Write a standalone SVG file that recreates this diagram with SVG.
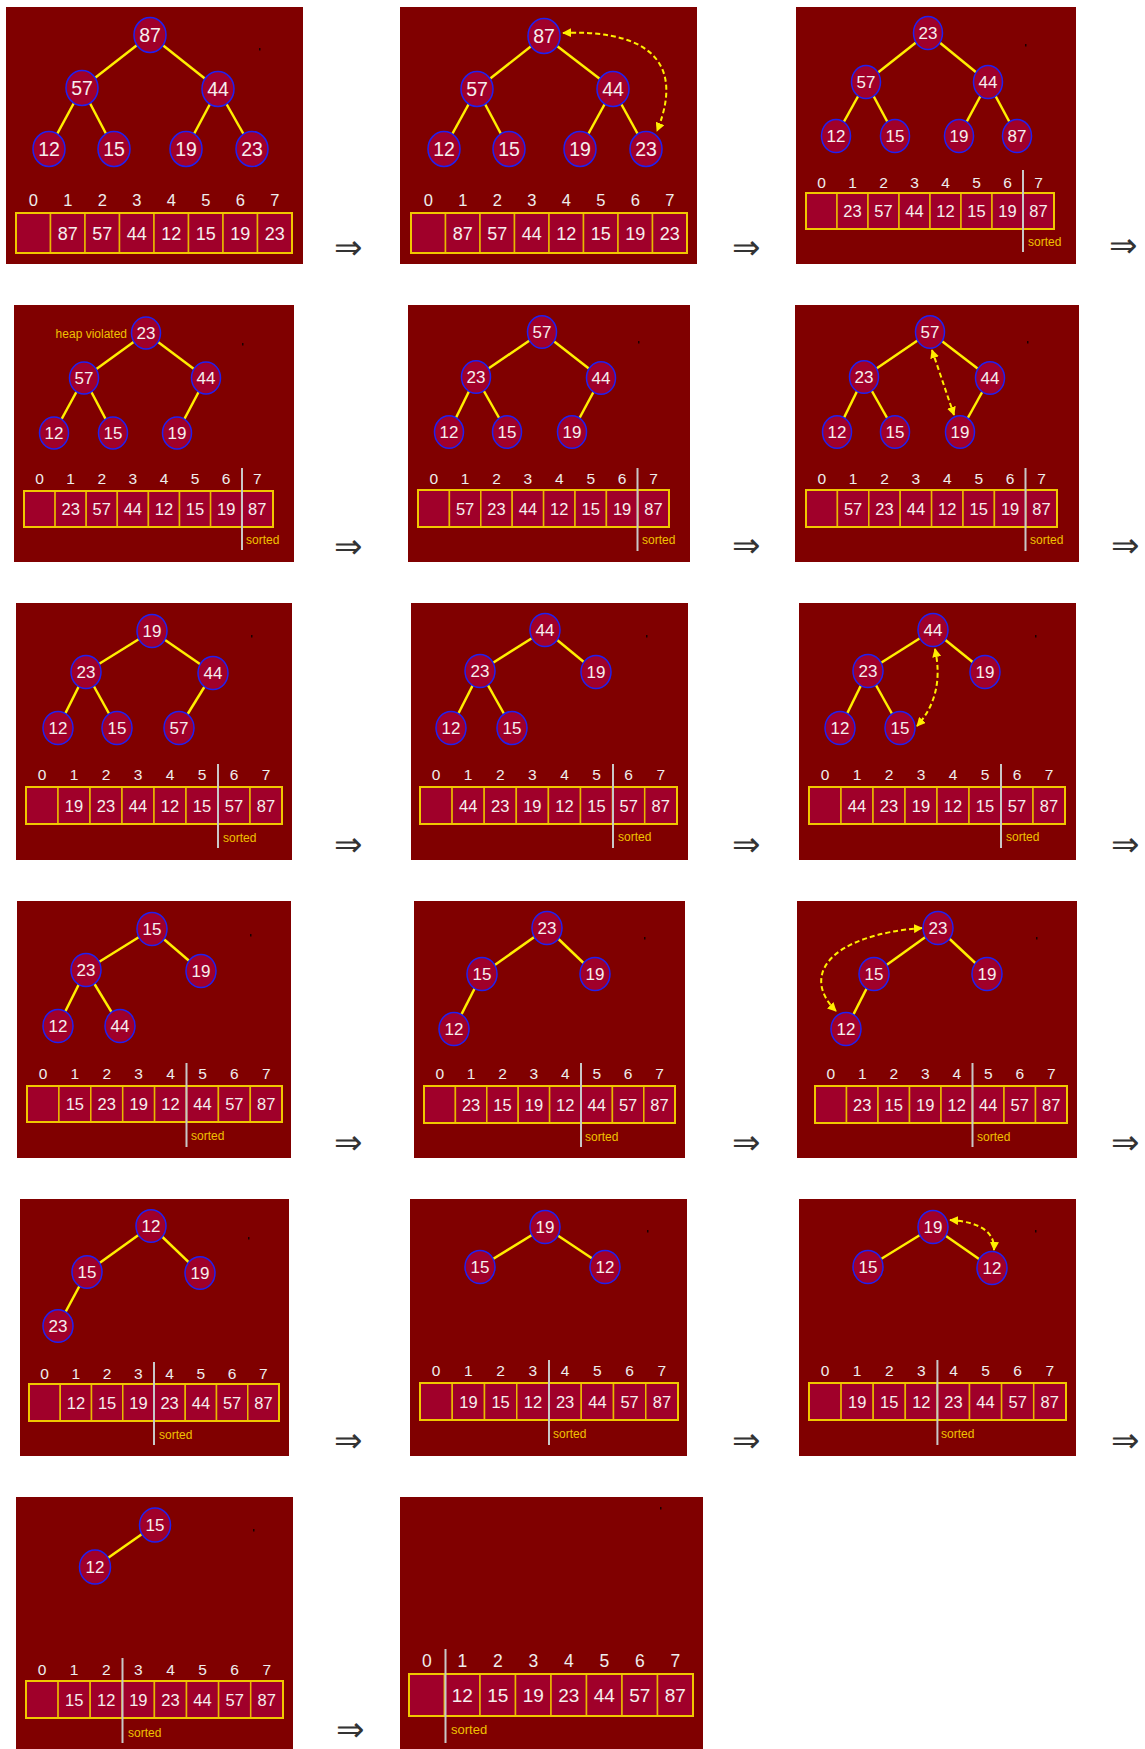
<svg xmlns="http://www.w3.org/2000/svg" width="1145" height="1749" viewBox="0 0 1145 1749">
<style>
text{font-family:"Liberation Sans",Arial,Helvetica,sans-serif}
.bg{fill:#800000}
.dot{fill:#1a0000}
.nd ellipse{fill:#a0002a;stroke:#2020f0;stroke-width:1.5}
.nt{fill:#f6eeee;text-anchor:middle;font-size:17px}
.big .nt{font-size:19.5px}
.edge{stroke:#ffee00;stroke-width:2.5}
.swap{stroke:#ffee00;stroke-width:2;stroke-dasharray:5 3;fill:none;marker-start:url(#ah);marker-end:url(#ah)}
.cell{fill:#a0002a;stroke:#e8b800;stroke-width:1.5}
.frame{fill:none;stroke:#f0c800;stroke-width:2}
.ct{fill:#f6eeee;text-anchor:middle;font-size:16.5px}
.big .ct{font-size:18px}
.big2 .ct{font-size:19px}
.idx{fill:#eeeeee;text-anchor:middle;font-size:15.5px}
.big .idx{font-size:16.5px}
.big2 .idx{font-size:17.5px}
.div{stroke:#c8c8c8;stroke-width:2}
.srt{fill:#f0c000;font-size:12px}
.big2 .srt{font-size:13px}
.arr{font-family:"DejaVu Sans ExtraLight","DejaVu Sans",sans-serif;font-weight:200;font-size:34px;fill:#333333}
</style>
<defs>
<marker id="ah" viewBox="0 0 10 10" refX="9" refY="5" markerUnits="userSpaceOnUse" markerWidth="9" markerHeight="9" orient="auto-start-reverse"><path d="M0,0 L10,5 L0,10 z" fill="#ffee00"/></marker>
</defs>
<rect width="1145" height="1749" fill="#ffffff"/>

<!-- Panel 1 -->
<g id="panel1" class="big">
<rect class="bg" x="6" y="7" width="297" height="257"/>
<rect class="dot" x="259" y="48" width="1.5" height="2.5"/>
<g id="p1-connectors">
<line class="edge" x1="150" y1="35" x2="82" y2="88"/><line class="edge" x1="150" y1="35" x2="218" y2="89"/>
<line class="edge" x1="82" y1="88" x2="49" y2="149"/><line class="edge" x1="82" y1="88" x2="114" y2="149"/>
<line class="edge" x1="218" y1="89" x2="186" y2="149"/><line class="edge" x1="218" y1="89" x2="252" y2="149"/>
</g>
<g id="p1-n87" class="nd"><ellipse cx="150" cy="35" rx="16" ry="17.5"/><text class="nt" x="150" y="42">87</text></g>
<g id="p1-n57" class="nd"><ellipse cx="82" cy="88" rx="16" ry="17.5"/><text class="nt" x="82" y="95">57</text></g>
<g id="p1-n44" class="nd"><ellipse cx="218" cy="89" rx="16" ry="17.5"/><text class="nt" x="218" y="96">44</text></g>
<g id="p1-n12" class="nd"><ellipse cx="49" cy="149" rx="16" ry="17.5"/><text class="nt" x="49" y="156">12</text></g>
<g id="p1-n15" class="nd"><ellipse cx="114" cy="149" rx="16" ry="17.5"/><text class="nt" x="114" y="156">15</text></g>
<g id="p1-n19" class="nd"><ellipse cx="186" cy="149" rx="16" ry="17.5"/><text class="nt" x="186" y="156">19</text></g>
<g id="p1-n23" class="nd"><ellipse cx="252" cy="149" rx="16" ry="17.5"/><text class="nt" x="252" y="156">23</text></g>
<g id="p1-array">
<rect class="cell" x="16" y="213" width="34.5" height="40"/><rect class="cell" x="50.5" y="213" width="34.5" height="40"/><rect class="cell" x="85" y="213" width="34.5" height="40"/><rect class="cell" x="119.5" y="213" width="34.5" height="40"/><rect class="cell" x="154" y="213" width="34.5" height="40"/><rect class="cell" x="188.5" y="213" width="34.5" height="40"/><rect class="cell" x="223" y="213" width="34.5" height="40"/><rect class="cell" x="257.5" y="213" width="34.5" height="40"/>
<rect class="frame" x="16" y="213" width="276" height="40"/>
<text class="idx" x="33.25" y="206">0</text><text class="idx" x="67.75" y="206">1</text><text class="idx" x="102.25" y="206">2</text><text class="idx" x="136.75" y="206">3</text><text class="idx" x="171.25" y="206">4</text><text class="idx" x="205.75" y="206">5</text><text class="idx" x="240.25" y="206">6</text><text class="idx" x="274.75" y="206">7</text>
<text class="ct" x="67.75" y="239.5">87</text><text class="ct" x="102.25" y="239.5">57</text><text class="ct" x="136.75" y="239.5">44</text><text class="ct" x="171.25" y="239.5">12</text><text class="ct" x="205.75" y="239.5">15</text><text class="ct" x="240.25" y="239.5">19</text><text class="ct" x="274.75" y="239.5">23</text>
</g>
</g>
<text class="arr" x="334" y="258.5">⇒</text>

<!-- Panel 2 -->
<g id="panel2" class="big">
<rect class="bg" x="400" y="7" width="297" height="257"/>
<g id="p2-connectors">
<line class="edge" x1="544" y1="36" x2="477" y2="89"/><line class="edge" x1="544" y1="36" x2="613" y2="89"/>
<line class="edge" x1="477" y1="89" x2="444" y2="149"/><line class="edge" x1="477" y1="89" x2="509" y2="149"/>
<line class="edge" x1="613" y1="89" x2="580" y2="149"/><line class="edge" x1="613" y1="89" x2="646" y2="149"/>
<path class="swap" d="M563,33 C630,30 690,50 657,131"/>
</g>
<g id="p2-n87" class="nd"><ellipse cx="544" cy="36" rx="16" ry="17.5"/><text class="nt" x="544" y="43">87</text></g>
<g id="p2-n57" class="nd"><ellipse cx="477" cy="89" rx="16" ry="17.5"/><text class="nt" x="477" y="96">57</text></g>
<g id="p2-n44" class="nd"><ellipse cx="613" cy="89" rx="16" ry="17.5"/><text class="nt" x="613" y="96">44</text></g>
<g id="p2-n12" class="nd"><ellipse cx="444" cy="149" rx="16" ry="17.5"/><text class="nt" x="444" y="156">12</text></g>
<g id="p2-n15" class="nd"><ellipse cx="509" cy="149" rx="16" ry="17.5"/><text class="nt" x="509" y="156">15</text></g>
<g id="p2-n19" class="nd"><ellipse cx="580" cy="149" rx="16" ry="17.5"/><text class="nt" x="580" y="156">19</text></g>
<g id="p2-n23" class="nd"><ellipse cx="646" cy="149" rx="16" ry="17.5"/><text class="nt" x="646" y="156">23</text></g>
<g id="p2-array">
<rect class="cell" x="411" y="213" width="34.5" height="40"/><rect class="cell" x="445.5" y="213" width="34.5" height="40"/><rect class="cell" x="480" y="213" width="34.5" height="40"/><rect class="cell" x="514.5" y="213" width="34.5" height="40"/><rect class="cell" x="549" y="213" width="34.5" height="40"/><rect class="cell" x="583.5" y="213" width="34.5" height="40"/><rect class="cell" x="618" y="213" width="34.5" height="40"/><rect class="cell" x="652.5" y="213" width="34.5" height="40"/>
<rect class="frame" x="411" y="213" width="276" height="40"/>
<text class="idx" x="428.25" y="206">0</text><text class="idx" x="462.75" y="206">1</text><text class="idx" x="497.25" y="206">2</text><text class="idx" x="531.75" y="206">3</text><text class="idx" x="566.25" y="206">4</text><text class="idx" x="600.75" y="206">5</text><text class="idx" x="635.25" y="206">6</text><text class="idx" x="669.75" y="206">7</text>
<text class="ct" x="462.75" y="239.5">87</text><text class="ct" x="497.25" y="239.5">57</text><text class="ct" x="531.75" y="239.5">44</text><text class="ct" x="566.25" y="239.5">12</text><text class="ct" x="600.75" y="239.5">15</text><text class="ct" x="635.25" y="239.5">19</text><text class="ct" x="669.75" y="239.5">23</text>
</g>
</g>
<text class="arr" x="732" y="258.5">⇒</text>

<!-- Panel 3 -->
<g id="panel3">
<rect class="bg" x="796" y="7" width="280" height="257"/>
<rect class="dot" x="1025" y="44" width="1.5" height="2.5"/>
<g id="p3-connectors">
<line class="edge" x1="928" y1="33" x2="866" y2="82"/><line class="edge" x1="928" y1="33" x2="988" y2="82"/>
<line class="edge" x1="866" y1="82" x2="836" y2="136"/><line class="edge" x1="866" y1="82" x2="895" y2="136"/>
<line class="edge" x1="988" y1="82" x2="959" y2="136"/><line class="edge" x1="988" y1="82" x2="1017" y2="136"/>
</g>
<g id="p3-n23" class="nd"><ellipse cx="928" cy="33" rx="14.5" ry="16.5"/><text class="nt" x="928" y="39">23</text></g>
<g id="p3-n57" class="nd"><ellipse cx="866" cy="82" rx="14.5" ry="16.5"/><text class="nt" x="866" y="88">57</text></g>
<g id="p3-n44" class="nd"><ellipse cx="988" cy="82" rx="14.5" ry="16.5"/><text class="nt" x="988" y="88">44</text></g>
<g id="p3-n12" class="nd"><ellipse cx="836" cy="136" rx="14.5" ry="16.5"/><text class="nt" x="836" y="142">12</text></g>
<g id="p3-n15" class="nd"><ellipse cx="895" cy="136" rx="14.5" ry="16.5"/><text class="nt" x="895" y="142">15</text></g>
<g id="p3-n19" class="nd"><ellipse cx="959" cy="136" rx="14.5" ry="16.5"/><text class="nt" x="959" y="142">19</text></g>
<g id="p3-n87" class="nd"><ellipse cx="1017" cy="136" rx="14.5" ry="16.5"/><text class="nt" x="1017" y="142">87</text></g>
<g id="p3-array">
<rect class="cell" x="806" y="193" width="31" height="36"/><rect class="cell" x="837" y="193" width="31" height="36"/><rect class="cell" x="868" y="193" width="31" height="36"/><rect class="cell" x="899" y="193" width="31" height="36"/><rect class="cell" x="930" y="193" width="31" height="36"/><rect class="cell" x="961" y="193" width="31" height="36"/><rect class="cell" x="992" y="193" width="31" height="36"/><rect class="cell" x="1023" y="193" width="31" height="36"/>
<rect class="frame" x="806" y="193" width="248" height="36"/>
<text class="idx" x="821.5" y="187.5">0</text><text class="idx" x="852.5" y="187.5">1</text><text class="idx" x="883.5" y="187.5">2</text><text class="idx" x="914.5" y="187.5">3</text><text class="idx" x="945.5" y="187.5">4</text><text class="idx" x="976.5" y="187.5">5</text><text class="idx" x="1007.5" y="187.5">6</text><text class="idx" x="1038.5" y="187.5">7</text>
<text class="ct" x="852.5" y="217">23</text><text class="ct" x="883.5" y="217">57</text><text class="ct" x="914.5" y="217">44</text><text class="ct" x="945.5" y="217">12</text><text class="ct" x="976.5" y="217">15</text><text class="ct" x="1007.5" y="217">19</text><text class="ct" x="1038.5" y="217">87</text>
<line class="div" x1="1023" y1="170" x2="1023" y2="252"/>
<text class="srt" x="1028" y="245.5">sorted</text>
</g>
</g>
<text class="arr" x="1109" y="256.5">⇒</text>

<!-- Panel 4 -->
<g id="panel4">
<rect class="bg" x="14" y="305" width="280" height="257"/>
<rect class="dot" x="242" y="343" width="1.5" height="2.5"/>
<g id="p4-connectors">
<line class="edge" x1="146" y1="333" x2="84" y2="378"/><line class="edge" x1="146" y1="333" x2="206" y2="378"/>
<line class="edge" x1="84" y1="378" x2="54" y2="433"/><line class="edge" x1="84" y1="378" x2="113" y2="433"/>
<line class="edge" x1="206" y1="378" x2="177" y2="433"/>
</g>
<text class="srt" x="127" y="337.5" text-anchor="end">heap violated</text>
<g id="p4-n23" class="nd"><ellipse cx="146" cy="333" rx="14.5" ry="16"/><text class="nt" x="146" y="339">23</text></g>
<g id="p4-n57" class="nd"><ellipse cx="84" cy="378" rx="14.5" ry="16"/><text class="nt" x="84" y="384">57</text></g>
<g id="p4-n44" class="nd"><ellipse cx="206" cy="378" rx="14.5" ry="16"/><text class="nt" x="206" y="384">44</text></g>
<g id="p4-n12" class="nd"><ellipse cx="54" cy="433" rx="14.5" ry="16"/><text class="nt" x="54" y="439">12</text></g>
<g id="p4-n15" class="nd"><ellipse cx="113" cy="433" rx="14.5" ry="16"/><text class="nt" x="113" y="439">15</text></g>
<g id="p4-n19" class="nd"><ellipse cx="177" cy="433" rx="14.5" ry="16"/><text class="nt" x="177" y="439">19</text></g>
<g id="p4-array">
<rect class="cell" x="24" y="491" width="31.1" height="36"/><rect class="cell" x="55.1" y="491" width="31.1" height="36"/><rect class="cell" x="86.2" y="491" width="31.1" height="36"/><rect class="cell" x="117.3" y="491" width="31.1" height="36"/><rect class="cell" x="148.4" y="491" width="31.1" height="36"/><rect class="cell" x="179.5" y="491" width="31.1" height="36"/><rect class="cell" x="210.6" y="491" width="31.1" height="36"/><rect class="cell" x="241.7" y="491" width="31.3" height="36"/>
<rect class="frame" x="24" y="491" width="249" height="36"/>
<text class="idx" x="39.55" y="483.5">0</text><text class="idx" x="70.65" y="483.5">1</text><text class="idx" x="101.75" y="483.5">2</text><text class="idx" x="132.85" y="483.5">3</text><text class="idx" x="163.95" y="483.5">4</text><text class="idx" x="195.05" y="483.5">5</text><text class="idx" x="226.15" y="483.5">6</text><text class="idx" x="257.25" y="483.5">7</text>
<text class="ct" x="70.65" y="515">23</text><text class="ct" x="101.75" y="515">57</text><text class="ct" x="132.85" y="515">44</text><text class="ct" x="163.95" y="515">12</text><text class="ct" x="195.05" y="515">15</text><text class="ct" x="226.15" y="515">19</text><text class="ct" x="257.25" y="515">87</text>
<line class="div" x1="242" y1="468" x2="242" y2="550"/>
<text class="srt" x="246" y="543.5">sorted</text>
</g>
</g>
<text class="arr" x="334" y="557.5">⇒</text>

<!-- Panel 5 -->
<g id="panel5">
<rect class="bg" x="408" y="305" width="282" height="257"/>
<rect class="dot" x="638" y="341" width="1.5" height="2.5"/>
<g id="p5-connectors">
<line class="edge" x1="542" y1="332" x2="476" y2="377"/><line class="edge" x1="542" y1="332" x2="601" y2="378"/>
<line class="edge" x1="476" y1="377" x2="449" y2="432"/><line class="edge" x1="476" y1="377" x2="507" y2="432"/>
<line class="edge" x1="601" y1="378" x2="572" y2="432"/>
</g>
<g id="p5-n57" class="nd"><ellipse cx="542" cy="332" rx="14.5" ry="16.3"/><text class="nt" x="542" y="338">57</text></g>
<g id="p5-n23" class="nd"><ellipse cx="476" cy="377" rx="14.5" ry="16.3"/><text class="nt" x="476" y="383">23</text></g>
<g id="p5-n44" class="nd"><ellipse cx="601" cy="378" rx="14.5" ry="16.3"/><text class="nt" x="601" y="384">44</text></g>
<g id="p5-n12" class="nd"><ellipse cx="449" cy="432" rx="14.5" ry="16.3"/><text class="nt" x="449" y="438">12</text></g>
<g id="p5-n15" class="nd"><ellipse cx="507" cy="432" rx="14.5" ry="16.3"/><text class="nt" x="507" y="438">15</text></g>
<g id="p5-n19" class="nd"><ellipse cx="572" cy="432" rx="14.5" ry="16.3"/><text class="nt" x="572" y="438">19</text></g>
<g id="p5-array">
<rect class="cell" x="418" y="490" width="31.4" height="37"/><rect class="cell" x="449.4" y="490" width="31.4" height="37"/><rect class="cell" x="480.8" y="490" width="31.4" height="37"/><rect class="cell" x="512.2" y="490" width="31.4" height="37"/><rect class="cell" x="543.6" y="490" width="31.4" height="37"/><rect class="cell" x="575" y="490" width="31.4" height="37"/><rect class="cell" x="606.4" y="490" width="31.4" height="37"/><rect class="cell" x="637.8" y="490" width="31.2" height="37"/>
<rect class="frame" x="418" y="490" width="251" height="37"/>
<text class="idx" x="433.7" y="483.5">0</text><text class="idx" x="465.1" y="483.5">1</text><text class="idx" x="496.5" y="483.5">2</text><text class="idx" x="527.9" y="483.5">3</text><text class="idx" x="559.3" y="483.5">4</text><text class="idx" x="590.7" y="483.5">5</text><text class="idx" x="622.1" y="483.5">6</text><text class="idx" x="653.5" y="483.5">7</text>
<text class="ct" x="465.1" y="514.5">57</text><text class="ct" x="496.5" y="514.5">23</text><text class="ct" x="527.9" y="514.5">44</text><text class="ct" x="559.3" y="514.5">12</text><text class="ct" x="590.7" y="514.5">15</text><text class="ct" x="622.1" y="514.5">19</text><text class="ct" x="653.5" y="514.5">87</text>
<line class="div" x1="637.5" y1="468" x2="637.5" y2="551"/>
<text class="srt" x="642" y="544">sorted</text>
</g>
</g>
<text class="arr" x="732" y="556.5">⇒</text>

<!-- Panel 6 -->
<g id="panel6">
<rect class="bg" x="795" y="305" width="284" height="257"/>
<rect class="dot" x="1027" y="341" width="1.5" height="2.5"/>
<g id="p6-connectors">
<line class="edge" x1="930" y1="332" x2="864" y2="377"/><line class="edge" x1="930" y1="332" x2="990" y2="378"/>
<line class="edge" x1="864" y1="377" x2="837" y2="432"/><line class="edge" x1="864" y1="377" x2="895" y2="432"/>
<line class="edge" x1="990" y1="378" x2="960" y2="432"/>
<path class="swap" d="M932,350 L954,415"/>
</g>
<g id="p6-n57" class="nd"><ellipse cx="930" cy="332" rx="14.5" ry="16.3"/><text class="nt" x="930" y="338">57</text></g>
<g id="p6-n23" class="nd"><ellipse cx="864" cy="377" rx="14.5" ry="16.3"/><text class="nt" x="864" y="383">23</text></g>
<g id="p6-n44" class="nd"><ellipse cx="990" cy="378" rx="14.5" ry="16.3"/><text class="nt" x="990" y="384">44</text></g>
<g id="p6-n12" class="nd"><ellipse cx="837" cy="432" rx="14.5" ry="16.3"/><text class="nt" x="837" y="438">12</text></g>
<g id="p6-n15" class="nd"><ellipse cx="895" cy="432" rx="14.5" ry="16.3"/><text class="nt" x="895" y="438">15</text></g>
<g id="p6-n19" class="nd"><ellipse cx="960" cy="432" rx="14.5" ry="16.3"/><text class="nt" x="960" y="438">19</text></g>
<g id="p6-array">
<rect class="cell" x="806" y="490" width="31.4" height="37"/><rect class="cell" x="837.4" y="490" width="31.4" height="37"/><rect class="cell" x="868.8" y="490" width="31.4" height="37"/><rect class="cell" x="900.2" y="490" width="31.4" height="37"/><rect class="cell" x="931.6" y="490" width="31.4" height="37"/><rect class="cell" x="963" y="490" width="31.4" height="37"/><rect class="cell" x="994.4" y="490" width="31.4" height="37"/><rect class="cell" x="1025.8" y="490" width="31.2" height="37"/>
<rect class="frame" x="806" y="490" width="251" height="37"/>
<text class="idx" x="821.7" y="483.5">0</text><text class="idx" x="853.1" y="483.5">1</text><text class="idx" x="884.5" y="483.5">2</text><text class="idx" x="915.9" y="483.5">3</text><text class="idx" x="947.3" y="483.5">4</text><text class="idx" x="978.7" y="483.5">5</text><text class="idx" x="1010.1" y="483.5">6</text><text class="idx" x="1041.5" y="483.5">7</text>
<text class="ct" x="853.1" y="514.5">57</text><text class="ct" x="884.5" y="514.5">23</text><text class="ct" x="915.9" y="514.5">44</text><text class="ct" x="947.3" y="514.5">12</text><text class="ct" x="978.7" y="514.5">15</text><text class="ct" x="1010.1" y="514.5">19</text><text class="ct" x="1041.5" y="514.5">87</text>
<line class="div" x1="1025.5" y1="468" x2="1025.5" y2="551"/>
<text class="srt" x="1030" y="544">sorted</text>
</g>
</g>
<text class="arr" x="1111" y="556.5">⇒</text>

<!-- Panel 7 -->
<g id="panel7">
<rect class="bg" x="16" y="603" width="276" height="257"/>
<rect class="dot" x="251" y="635" width="1.5" height="2.5"/>
<g id="p7-connectors">
<line class="edge" x1="152" y1="631" x2="86" y2="672"/><line class="edge" x1="152" y1="631" x2="213" y2="673"/>
<line class="edge" x1="86" y1="672" x2="58" y2="728"/><line class="edge" x1="86" y1="672" x2="117" y2="728"/>
<line class="edge" x1="213" y1="673" x2="179" y2="728"/>
</g>
<g id="p7-n19" class="nd"><ellipse cx="152" cy="631" rx="15" ry="16.5"/><text class="nt" x="152" y="637">19</text></g>
<g id="p7-n23" class="nd"><ellipse cx="86" cy="672" rx="15" ry="16.5"/><text class="nt" x="86" y="678">23</text></g>
<g id="p7-n44" class="nd"><ellipse cx="213" cy="673" rx="15" ry="16.5"/><text class="nt" x="213" y="679">44</text></g>
<g id="p7-n12" class="nd"><ellipse cx="58" cy="728" rx="15" ry="16.5"/><text class="nt" x="58" y="734">12</text></g>
<g id="p7-n15" class="nd"><ellipse cx="117" cy="728" rx="15" ry="16.5"/><text class="nt" x="117" y="734">15</text></g>
<g id="p7-n57" class="nd"><ellipse cx="179" cy="728" rx="15" ry="16.5"/><text class="nt" x="179" y="734">57</text></g>
<g id="p7-array">
<rect class="cell" x="26" y="787" width="32" height="37"/><rect class="cell" x="58" y="787" width="32" height="37"/><rect class="cell" x="90" y="787" width="32" height="37"/><rect class="cell" x="122" y="787" width="32" height="37"/><rect class="cell" x="154" y="787" width="32" height="37"/><rect class="cell" x="186" y="787" width="32" height="37"/><rect class="cell" x="218" y="787" width="32" height="37"/><rect class="cell" x="250" y="787" width="32" height="37"/>
<rect class="frame" x="26" y="787" width="256" height="37"/>
<text class="idx" x="42" y="779.5">0</text><text class="idx" x="74" y="779.5">1</text><text class="idx" x="106" y="779.5">2</text><text class="idx" x="138" y="779.5">3</text><text class="idx" x="170" y="779.5">4</text><text class="idx" x="202" y="779.5">5</text><text class="idx" x="234" y="779.5">6</text><text class="idx" x="266" y="779.5">7</text>
<text class="ct" x="74" y="811.5">19</text><text class="ct" x="106" y="811.5">23</text><text class="ct" x="138" y="811.5">44</text><text class="ct" x="170" y="811.5">12</text><text class="ct" x="202" y="811.5">15</text><text class="ct" x="234" y="811.5">57</text><text class="ct" x="266" y="811.5">87</text>
<line class="div" x1="218" y1="764" x2="218" y2="848"/>
<text class="srt" x="223" y="841.5">sorted</text>
</g>
</g>
<text class="arr" x="334" y="855.5">⇒</text>

<!-- Panel 8 -->
<g id="panel8">
<rect class="bg" x="411" y="603" width="277" height="257"/>
<rect class="dot" x="646" y="635" width="1.5" height="2.5"/>
<g id="p8-connectors">
<line class="edge" x1="545" y1="630" x2="480" y2="671"/><line class="edge" x1="545" y1="630" x2="596" y2="672"/>
<line class="edge" x1="480" y1="671" x2="451" y2="728"/><line class="edge" x1="480" y1="671" x2="512" y2="728"/>
</g>
<g id="p8-n44" class="nd"><ellipse cx="545" cy="630" rx="15" ry="16.5"/><text class="nt" x="545" y="636">44</text></g>
<g id="p8-n23" class="nd"><ellipse cx="480" cy="671" rx="15" ry="16.5"/><text class="nt" x="480" y="677">23</text></g>
<g id="p8-n19" class="nd"><ellipse cx="596" cy="672" rx="15" ry="16.5"/><text class="nt" x="596" y="678">19</text></g>
<g id="p8-n12" class="nd"><ellipse cx="451" cy="728" rx="15" ry="16.5"/><text class="nt" x="451" y="734">12</text></g>
<g id="p8-n15" class="nd"><ellipse cx="512" cy="728" rx="15" ry="16.5"/><text class="nt" x="512" y="734">15</text></g>
<g id="p8-array">
<rect class="cell" x="420" y="787" width="32.1" height="37"/><rect class="cell" x="452.1" y="787" width="32.1" height="37"/><rect class="cell" x="484.2" y="787" width="32.1" height="37"/><rect class="cell" x="516.3" y="787" width="32.1" height="37"/><rect class="cell" x="548.4" y="787" width="32.1" height="37"/><rect class="cell" x="580.5" y="787" width="32.1" height="37"/><rect class="cell" x="612.6" y="787" width="32.1" height="37"/><rect class="cell" x="644.7" y="787" width="32.3" height="37"/>
<rect class="frame" x="420" y="787" width="257" height="37"/>
<text class="idx" x="436.05" y="779.5">0</text><text class="idx" x="468.15" y="779.5">1</text><text class="idx" x="500.25" y="779.5">2</text><text class="idx" x="532.35" y="779.5">3</text><text class="idx" x="564.45" y="779.5">4</text><text class="idx" x="596.55" y="779.5">5</text><text class="idx" x="628.65" y="779.5">6</text><text class="idx" x="660.75" y="779.5">7</text>
<text class="ct" x="468.15" y="811.5">44</text><text class="ct" x="500.25" y="811.5">23</text><text class="ct" x="532.35" y="811.5">19</text><text class="ct" x="564.45" y="811.5">12</text><text class="ct" x="596.55" y="811.5">15</text><text class="ct" x="628.65" y="811.5">57</text><text class="ct" x="660.75" y="811.5">87</text>
<line class="div" x1="613" y1="764" x2="613" y2="848"/>
<text class="srt" x="618" y="841">sorted</text>
</g>
</g>
<text class="arr" x="732" y="855.5">⇒</text>

<!-- Panel 9 -->
<g id="panel9">
<rect class="bg" x="799" y="603" width="277" height="257"/>
<rect class="dot" x="1035" y="635" width="1.5" height="2.5"/>
<g id="p9-connectors">
<line class="edge" x1="933" y1="630" x2="868" y2="671"/><line class="edge" x1="933" y1="630" x2="985" y2="672"/>
<line class="edge" x1="868" y1="671" x2="840" y2="728"/><line class="edge" x1="868" y1="671" x2="900" y2="728"/>
<path class="swap" d="M935,649 Q945,695 917,726"/>
</g>
<g id="p9-n44" class="nd"><ellipse cx="933" cy="630" rx="15" ry="16.5"/><text class="nt" x="933" y="636">44</text></g>
<g id="p9-n23" class="nd"><ellipse cx="868" cy="671" rx="15" ry="16.5"/><text class="nt" x="868" y="677">23</text></g>
<g id="p9-n19" class="nd"><ellipse cx="985" cy="672" rx="15" ry="16.5"/><text class="nt" x="985" y="678">19</text></g>
<g id="p9-n12" class="nd"><ellipse cx="840" cy="728" rx="15" ry="16.5"/><text class="nt" x="840" y="734">12</text></g>
<g id="p9-n15" class="nd"><ellipse cx="900" cy="728" rx="15" ry="16.5"/><text class="nt" x="900" y="734">15</text></g>
<g id="p9-array">
<rect class="cell" x="809" y="787" width="32" height="37"/><rect class="cell" x="841" y="787" width="32" height="37"/><rect class="cell" x="873" y="787" width="32" height="37"/><rect class="cell" x="905" y="787" width="32" height="37"/><rect class="cell" x="937" y="787" width="32" height="37"/><rect class="cell" x="969" y="787" width="32" height="37"/><rect class="cell" x="1001" y="787" width="32" height="37"/><rect class="cell" x="1033" y="787" width="32" height="37"/>
<rect class="frame" x="809" y="787" width="256" height="37"/>
<text class="idx" x="825" y="779.5">0</text><text class="idx" x="857" y="779.5">1</text><text class="idx" x="889" y="779.5">2</text><text class="idx" x="921" y="779.5">3</text><text class="idx" x="953" y="779.5">4</text><text class="idx" x="985" y="779.5">5</text><text class="idx" x="1017" y="779.5">6</text><text class="idx" x="1049" y="779.5">7</text>
<text class="ct" x="857" y="811.5">44</text><text class="ct" x="889" y="811.5">23</text><text class="ct" x="921" y="811.5">19</text><text class="ct" x="953" y="811.5">12</text><text class="ct" x="985" y="811.5">15</text><text class="ct" x="1017" y="811.5">57</text><text class="ct" x="1049" y="811.5">87</text>
<line class="div" x1="1001" y1="764" x2="1001" y2="848"/>
<text class="srt" x="1006" y="841">sorted</text>
</g>
</g>
<text class="arr" x="1111" y="855.5">⇒</text>

<!-- Panel 10 -->
<g id="panel10">
<rect class="bg" x="17" y="901" width="274" height="257"/>
<rect class="dot" x="250" y="934" width="1.5" height="2.5"/>
<g id="p10-connectors">
<line class="edge" x1="152" y1="929" x2="86" y2="970"/><line class="edge" x1="152" y1="929" x2="201" y2="971"/>
<line class="edge" x1="86" y1="970" x2="58" y2="1026"/><line class="edge" x1="86" y1="970" x2="120" y2="1026"/>
</g>
<g id="p10-n15" class="nd"><ellipse cx="152" cy="929" rx="15" ry="16.5"/><text class="nt" x="152" y="935">15</text></g>
<g id="p10-n23" class="nd"><ellipse cx="86" cy="970" rx="15" ry="16.5"/><text class="nt" x="86" y="976">23</text></g>
<g id="p10-n19" class="nd"><ellipse cx="201" cy="971" rx="15" ry="16.5"/><text class="nt" x="201" y="977">19</text></g>
<g id="p10-n12" class="nd"><ellipse cx="58" cy="1026" rx="15" ry="16.5"/><text class="nt" x="58" y="1032">12</text></g>
<g id="p10-n44" class="nd"><ellipse cx="120" cy="1026" rx="15" ry="16.5"/><text class="nt" x="120" y="1032">44</text></g>
<g id="p10-array">
<rect class="cell" x="27" y="1086" width="31.9" height="36"/><rect class="cell" x="58.9" y="1086" width="31.9" height="36"/><rect class="cell" x="90.8" y="1086" width="31.9" height="36"/><rect class="cell" x="122.7" y="1086" width="31.9" height="36"/><rect class="cell" x="154.6" y="1086" width="31.9" height="36"/><rect class="cell" x="186.5" y="1086" width="31.9" height="36"/><rect class="cell" x="218.4" y="1086" width="31.9" height="36"/><rect class="cell" x="250.3" y="1086" width="31.7" height="36"/>
<rect class="frame" x="27" y="1086" width="255" height="36"/>
<text class="idx" x="42.95" y="1078.5">0</text><text class="idx" x="74.85" y="1078.5">1</text><text class="idx" x="106.75" y="1078.5">2</text><text class="idx" x="138.65" y="1078.5">3</text><text class="idx" x="170.55" y="1078.5">4</text><text class="idx" x="202.45" y="1078.5">5</text><text class="idx" x="234.35" y="1078.5">6</text><text class="idx" x="266.25" y="1078.5">7</text>
<text class="ct" x="74.85" y="1110">15</text><text class="ct" x="106.75" y="1110">23</text><text class="ct" x="138.65" y="1110">19</text><text class="ct" x="170.55" y="1110">12</text><text class="ct" x="202.45" y="1110">44</text><text class="ct" x="234.35" y="1110">57</text><text class="ct" x="266.25" y="1110">87</text>
<line class="div" x1="186.5" y1="1063" x2="186.5" y2="1147"/>
<text class="srt" x="191" y="1139.5">sorted</text>
</g>
</g>
<text class="arr" x="334" y="1153.5">⇒</text>

<!-- Panel 11 -->
<g id="panel11">
<rect class="bg" x="414" y="901" width="271" height="257"/>
<rect class="dot" x="644" y="937" width="1.5" height="2.5"/>
<g id="p11-connectors">
<line class="edge" x1="547" y1="928" x2="482" y2="974"/><line class="edge" x1="547" y1="928" x2="595" y2="974"/>
<line class="edge" x1="482" y1="974" x2="454" y2="1029"/>
</g>
<g id="p11-n23" class="nd"><ellipse cx="547" cy="928" rx="15" ry="16.5"/><text class="nt" x="547" y="934">23</text></g>
<g id="p11-n15" class="nd"><ellipse cx="482" cy="974" rx="15" ry="16.5"/><text class="nt" x="482" y="980">15</text></g>
<g id="p11-n19" class="nd"><ellipse cx="595" cy="974" rx="15" ry="16.5"/><text class="nt" x="595" y="980">19</text></g>
<g id="p11-n12" class="nd"><ellipse cx="454" cy="1029" rx="15" ry="16.5"/><text class="nt" x="454" y="1035">12</text></g>
<g id="p11-array">
<rect class="cell" x="424" y="1086" width="31.4" height="37"/><rect class="cell" x="455.4" y="1086" width="31.4" height="37"/><rect class="cell" x="486.8" y="1086" width="31.4" height="37"/><rect class="cell" x="518.2" y="1086" width="31.4" height="37"/><rect class="cell" x="549.6" y="1086" width="31.4" height="37"/><rect class="cell" x="581" y="1086" width="31.4" height="37"/><rect class="cell" x="612.4" y="1086" width="31.4" height="37"/><rect class="cell" x="643.8" y="1086" width="31.2" height="37"/>
<rect class="frame" x="424" y="1086" width="251" height="37"/>
<text class="idx" x="439.7" y="1079">0</text><text class="idx" x="471.1" y="1079">1</text><text class="idx" x="502.5" y="1079">2</text><text class="idx" x="533.9" y="1079">3</text><text class="idx" x="565.3" y="1079">4</text><text class="idx" x="596.7" y="1079">5</text><text class="idx" x="628.1" y="1079">6</text><text class="idx" x="659.5" y="1079">7</text>
<text class="ct" x="471.1" y="1110.5">23</text><text class="ct" x="502.5" y="1110.5">15</text><text class="ct" x="533.9" y="1110.5">19</text><text class="ct" x="565.3" y="1110.5">12</text><text class="ct" x="596.7" y="1110.5">44</text><text class="ct" x="628.1" y="1110.5">57</text><text class="ct" x="659.5" y="1110.5">87</text>
<line class="div" x1="581" y1="1063" x2="581" y2="1147"/>
<text class="srt" x="585" y="1140.5">sorted</text>
</g>
</g>
<text class="arr" x="732" y="1153.5">⇒</text>

<!-- Panel 12 -->
<g id="panel12">
<rect class="bg" x="797" y="901" width="280" height="257"/>
<rect class="dot" x="1036" y="937" width="1.5" height="2.5"/>
<g id="p12-connectors">
<line class="edge" x1="938" y1="928" x2="874" y2="974"/><line class="edge" x1="938" y1="928" x2="987" y2="974"/>
<line class="edge" x1="874" y1="974" x2="846" y2="1029"/>
<path class="swap" d="M922,928 C830,935 800,975 836,1011"/>
</g>
<g id="p12-n23" class="nd"><ellipse cx="938" cy="928" rx="15" ry="16.5"/><text class="nt" x="938" y="934">23</text></g>
<g id="p12-n15" class="nd"><ellipse cx="874" cy="974" rx="15" ry="16.5"/><text class="nt" x="874" y="980">15</text></g>
<g id="p12-n19" class="nd"><ellipse cx="987" cy="974" rx="15" ry="16.5"/><text class="nt" x="987" y="980">19</text></g>
<g id="p12-n12" class="nd"><ellipse cx="846" cy="1029" rx="15" ry="16.5"/><text class="nt" x="846" y="1035">12</text></g>
<g id="p12-array">
<rect class="cell" x="815" y="1086" width="31.5" height="37"/><rect class="cell" x="846.5" y="1086" width="31.5" height="37"/><rect class="cell" x="878" y="1086" width="31.5" height="37"/><rect class="cell" x="909.5" y="1086" width="31.5" height="37"/><rect class="cell" x="941" y="1086" width="31.5" height="37"/><rect class="cell" x="972.5" y="1086" width="31.5" height="37"/><rect class="cell" x="1004" y="1086" width="31.5" height="37"/><rect class="cell" x="1035.5" y="1086" width="31.5" height="37"/>
<rect class="frame" x="815" y="1086" width="252" height="37"/>
<text class="idx" x="830.75" y="1079">0</text><text class="idx" x="862.25" y="1079">1</text><text class="idx" x="893.75" y="1079">2</text><text class="idx" x="925.25" y="1079">3</text><text class="idx" x="956.75" y="1079">4</text><text class="idx" x="988.25" y="1079">5</text><text class="idx" x="1019.75" y="1079">6</text><text class="idx" x="1051.25" y="1079">7</text>
<text class="ct" x="862.25" y="1110.5">23</text><text class="ct" x="893.75" y="1110.5">15</text><text class="ct" x="925.25" y="1110.5">19</text><text class="ct" x="956.75" y="1110.5">12</text><text class="ct" x="988.25" y="1110.5">44</text><text class="ct" x="1019.75" y="1110.5">57</text><text class="ct" x="1051.25" y="1110.5">87</text>
<line class="div" x1="972.5" y1="1063" x2="972.5" y2="1147"/>
<text class="srt" x="977" y="1140.5">sorted</text>
</g>
</g>
<text class="arr" x="1111" y="1153.5">⇒</text>

<!-- Panel 13 -->
<g id="panel13">
<rect class="bg" x="20" y="1199" width="269" height="257"/>
<rect class="dot" x="248" y="1237" width="1.5" height="2.5"/>
<g id="p13-connectors">
<line class="edge" x1="151" y1="1226" x2="87" y2="1272"/><line class="edge" x1="151" y1="1226" x2="200" y2="1273"/>
<line class="edge" x1="87" y1="1272" x2="58" y2="1326"/>
</g>
<g id="p13-n12" class="nd"><ellipse cx="151" cy="1226" rx="15" ry="16.3"/><text class="nt" x="151" y="1232">12</text></g>
<g id="p13-n15" class="nd"><ellipse cx="87" cy="1272" rx="15" ry="16.3"/><text class="nt" x="87" y="1278">15</text></g>
<g id="p13-n19" class="nd"><ellipse cx="200" cy="1273" rx="15" ry="16.3"/><text class="nt" x="200" y="1279">19</text></g>
<g id="p13-n23" class="nd"><ellipse cx="58" cy="1326" rx="15" ry="16.3"/><text class="nt" x="58" y="1332">23</text></g>
<g id="p13-array">
<rect class="cell" x="29" y="1384" width="31.25" height="37"/><rect class="cell" x="60.25" y="1384" width="31.25" height="37"/><rect class="cell" x="91.5" y="1384" width="31.25" height="37"/><rect class="cell" x="122.75" y="1384" width="31.25" height="37"/><rect class="cell" x="154" y="1384" width="31.25" height="37"/><rect class="cell" x="185.25" y="1384" width="31.25" height="37"/><rect class="cell" x="216.5" y="1384" width="31.25" height="37"/><rect class="cell" x="247.75" y="1384" width="31.25" height="37"/>
<rect class="frame" x="29" y="1384" width="250" height="37"/>
<text class="idx" x="44.6" y="1378.5">0</text><text class="idx" x="75.9" y="1378.5">1</text><text class="idx" x="107.1" y="1378.5">2</text><text class="idx" x="138.4" y="1378.5">3</text><text class="idx" x="169.6" y="1378.5">4</text><text class="idx" x="200.9" y="1378.5">5</text><text class="idx" x="232.1" y="1378.5">6</text><text class="idx" x="263.4" y="1378.5">7</text>
<text class="ct" x="75.9" y="1408.5">12</text><text class="ct" x="107.1" y="1408.5">15</text><text class="ct" x="138.4" y="1408.5">19</text><text class="ct" x="169.6" y="1408.5">23</text><text class="ct" x="200.9" y="1408.5">44</text><text class="ct" x="232.1" y="1408.5">57</text><text class="ct" x="263.4" y="1408.5">87</text>
<line class="div" x1="154" y1="1362" x2="154" y2="1445"/>
<text class="srt" x="159" y="1438.5">sorted</text>
</g>
</g>
<text class="arr" x="334" y="1451.5">⇒</text>

<!-- Panel 14 -->
<g id="panel14">
<rect class="bg" x="410" y="1199" width="277" height="257"/>
<rect class="dot" x="647" y="1230" width="1.5" height="2.5"/>
<g id="p14-connectors">
<line class="edge" x1="545" y1="1227" x2="480" y2="1267"/><line class="edge" x1="545" y1="1227" x2="605" y2="1267"/>
</g>
<g id="p14-n19" class="nd"><ellipse cx="545" cy="1227" rx="15" ry="16.5"/><text class="nt" x="545" y="1233">19</text></g>
<g id="p14-n15" class="nd"><ellipse cx="480" cy="1267" rx="15" ry="16.5"/><text class="nt" x="480" y="1273">15</text></g>
<g id="p14-n12" class="nd"><ellipse cx="605" cy="1267" rx="15" ry="16.5"/><text class="nt" x="605" y="1273">12</text></g>
<g id="p14-array">
<rect class="cell" x="420" y="1383" width="32.25" height="37"/><rect class="cell" x="452.25" y="1383" width="32.25" height="37"/><rect class="cell" x="484.5" y="1383" width="32.25" height="37"/><rect class="cell" x="516.75" y="1383" width="32.25" height="37"/><rect class="cell" x="549" y="1383" width="32.25" height="37"/><rect class="cell" x="581.25" y="1383" width="32.25" height="37"/><rect class="cell" x="613.5" y="1383" width="32.25" height="37"/><rect class="cell" x="645.75" y="1383" width="32.25" height="37"/>
<rect class="frame" x="420" y="1383" width="258" height="37"/>
<text class="idx" x="436.1" y="1375.5">0</text><text class="idx" x="468.4" y="1375.5">1</text><text class="idx" x="500.6" y="1375.5">2</text><text class="idx" x="532.9" y="1375.5">3</text><text class="idx" x="565.1" y="1375.5">4</text><text class="idx" x="597.4" y="1375.5">5</text><text class="idx" x="629.6" y="1375.5">6</text><text class="idx" x="661.9" y="1375.5">7</text>
<text class="ct" x="468.4" y="1407.5">19</text><text class="ct" x="500.6" y="1407.5">15</text><text class="ct" x="532.9" y="1407.5">12</text><text class="ct" x="565.1" y="1407.5">23</text><text class="ct" x="597.4" y="1407.5">44</text><text class="ct" x="629.6" y="1407.5">57</text><text class="ct" x="661.9" y="1407.5">87</text>
<line class="div" x1="549" y1="1360" x2="549" y2="1445"/>
<text class="srt" x="553" y="1437.5">sorted</text>
</g>
</g>
<text class="arr" x="732" y="1451.5">⇒</text>

<!-- Panel 15 -->
<g id="panel15">
<rect class="bg" x="799" y="1199" width="277" height="257"/>
<rect class="dot" x="1035" y="1230" width="1.5" height="2.5"/>
<g id="p15-connectors">
<line class="edge" x1="933" y1="1227" x2="868" y2="1267"/><line class="edge" x1="933" y1="1227" x2="992" y2="1268"/>
<path class="swap" d="M950,1220 C980,1222 995,1232 994,1250"/>
</g>
<g id="p15-n19" class="nd"><ellipse cx="933" cy="1227" rx="15" ry="16.5"/><text class="nt" x="933" y="1233">19</text></g>
<g id="p15-n15" class="nd"><ellipse cx="868" cy="1267" rx="15" ry="16.5"/><text class="nt" x="868" y="1273">15</text></g>
<g id="p15-n12" class="nd"><ellipse cx="992" cy="1268" rx="15" ry="16.5"/><text class="nt" x="992" y="1274">12</text></g>
<g id="p15-array">
<rect class="cell" x="809" y="1383" width="32.1" height="37"/><rect class="cell" x="841.1" y="1383" width="32.1" height="37"/><rect class="cell" x="873.2" y="1383" width="32.1" height="37"/><rect class="cell" x="905.3" y="1383" width="32.1" height="37"/><rect class="cell" x="937.4" y="1383" width="32.1" height="37"/><rect class="cell" x="969.5" y="1383" width="32.1" height="37"/><rect class="cell" x="1001.6" y="1383" width="32.1" height="37"/><rect class="cell" x="1033.7" y="1383" width="32.3" height="37"/>
<rect class="frame" x="809" y="1383" width="257" height="37"/>
<text class="idx" x="825.05" y="1375.5">0</text><text class="idx" x="857.15" y="1375.5">1</text><text class="idx" x="889.25" y="1375.5">2</text><text class="idx" x="921.35" y="1375.5">3</text><text class="idx" x="953.45" y="1375.5">4</text><text class="idx" x="985.55" y="1375.5">5</text><text class="idx" x="1017.65" y="1375.5">6</text><text class="idx" x="1049.75" y="1375.5">7</text>
<text class="ct" x="857.15" y="1407.5">19</text><text class="ct" x="889.25" y="1407.5">15</text><text class="ct" x="921.35" y="1407.5">12</text><text class="ct" x="953.45" y="1407.5">23</text><text class="ct" x="985.55" y="1407.5">44</text><text class="ct" x="1017.65" y="1407.5">57</text><text class="ct" x="1049.75" y="1407.5">87</text>
<line class="div" x1="937.4" y1="1360" x2="937.4" y2="1445"/>
<text class="srt" x="941" y="1437.5">sorted</text>
</g>
</g>
<text class="arr" x="1111" y="1451.5">⇒</text>

<!-- Panel 16 -->
<g id="panel16">
<rect class="bg" x="16" y="1497" width="277" height="252"/>
<rect class="dot" x="253" y="1529" width="1.5" height="2.5"/>
<g id="p16-connectors">
<line class="edge" x1="155" y1="1525" x2="95" y2="1567"/>
</g>
<g id="p16-n15" class="nd"><ellipse cx="155" cy="1525" rx="15.5" ry="17"/><text class="nt" x="155" y="1531">15</text></g>
<g id="p16-n12" class="nd"><ellipse cx="95" cy="1567" rx="15.5" ry="17"/><text class="nt" x="95" y="1573">12</text></g>
<g id="p16-array">
<rect class="cell" x="26" y="1681" width="32.1" height="37"/><rect class="cell" x="58.1" y="1681" width="32.1" height="37"/><rect class="cell" x="90.2" y="1681" width="32.1" height="37"/><rect class="cell" x="122.3" y="1681" width="32.1" height="37"/><rect class="cell" x="154.4" y="1681" width="32.1" height="37"/><rect class="cell" x="186.5" y="1681" width="32.1" height="37"/><rect class="cell" x="218.6" y="1681" width="32.1" height="37"/><rect class="cell" x="250.7" y="1681" width="32.3" height="37"/>
<rect class="frame" x="26" y="1681" width="257" height="37"/>
<text class="idx" x="42.05" y="1674.5">0</text><text class="idx" x="74.15" y="1674.5">1</text><text class="idx" x="106.25" y="1674.5">2</text><text class="idx" x="138.35" y="1674.5">3</text><text class="idx" x="170.45" y="1674.5">4</text><text class="idx" x="202.55" y="1674.5">5</text><text class="idx" x="234.65" y="1674.5">6</text><text class="idx" x="266.75" y="1674.5">7</text>
<text class="ct" x="74.15" y="1705.5">15</text><text class="ct" x="106.25" y="1705.5">12</text><text class="ct" x="138.35" y="1705.5">19</text><text class="ct" x="170.45" y="1705.5">23</text><text class="ct" x="202.55" y="1705.5">44</text><text class="ct" x="234.65" y="1705.5">57</text><text class="ct" x="266.75" y="1705.5">87</text>
<line class="div" x1="122.5" y1="1658" x2="122.5" y2="1743"/>
<text class="srt" x="128" y="1736.5">sorted</text>
</g>
</g>
<text class="arr" x="336" y="1741">⇒</text>

<!-- Panel 17 -->
<g id="panel17" class="big2">
<rect class="bg" x="400" y="1497" width="303" height="252"/>
<rect class="dot" x="660" y="1507" width="1.5" height="2.5"/>
<g id="p17-array">
<rect class="cell" x="409" y="1674" width="35.5" height="42"/><rect class="cell" x="444.5" y="1674" width="35.5" height="42"/><rect class="cell" x="480" y="1674" width="35.5" height="42"/><rect class="cell" x="515.5" y="1674" width="35.5" height="42"/><rect class="cell" x="551" y="1674" width="35.5" height="42"/><rect class="cell" x="586.5" y="1674" width="35.5" height="42"/><rect class="cell" x="622" y="1674" width="35.5" height="42"/><rect class="cell" x="657.5" y="1674" width="35.5" height="42"/>
<rect class="frame" x="409" y="1674" width="284" height="42"/>
<text class="idx" x="426.75" y="1667">0</text><text class="idx" x="462.25" y="1667">1</text><text class="idx" x="497.75" y="1667">2</text><text class="idx" x="533.25" y="1667">3</text><text class="idx" x="568.75" y="1667">4</text><text class="idx" x="604.25" y="1667">5</text><text class="idx" x="639.75" y="1667">6</text><text class="idx" x="675.25" y="1667">7</text>
<text class="ct" x="462.25" y="1702">12</text><text class="ct" x="497.75" y="1702">15</text><text class="ct" x="533.25" y="1702">19</text><text class="ct" x="568.75" y="1702">23</text><text class="ct" x="604.25" y="1702">44</text><text class="ct" x="639.75" y="1702">57</text><text class="ct" x="675.25" y="1702">87</text>
<line class="div" x1="445.5" y1="1649" x2="445.5" y2="1743"/>
<text class="srt" x="451" y="1733.5">sorted</text>
</g>
</g>
</svg>
